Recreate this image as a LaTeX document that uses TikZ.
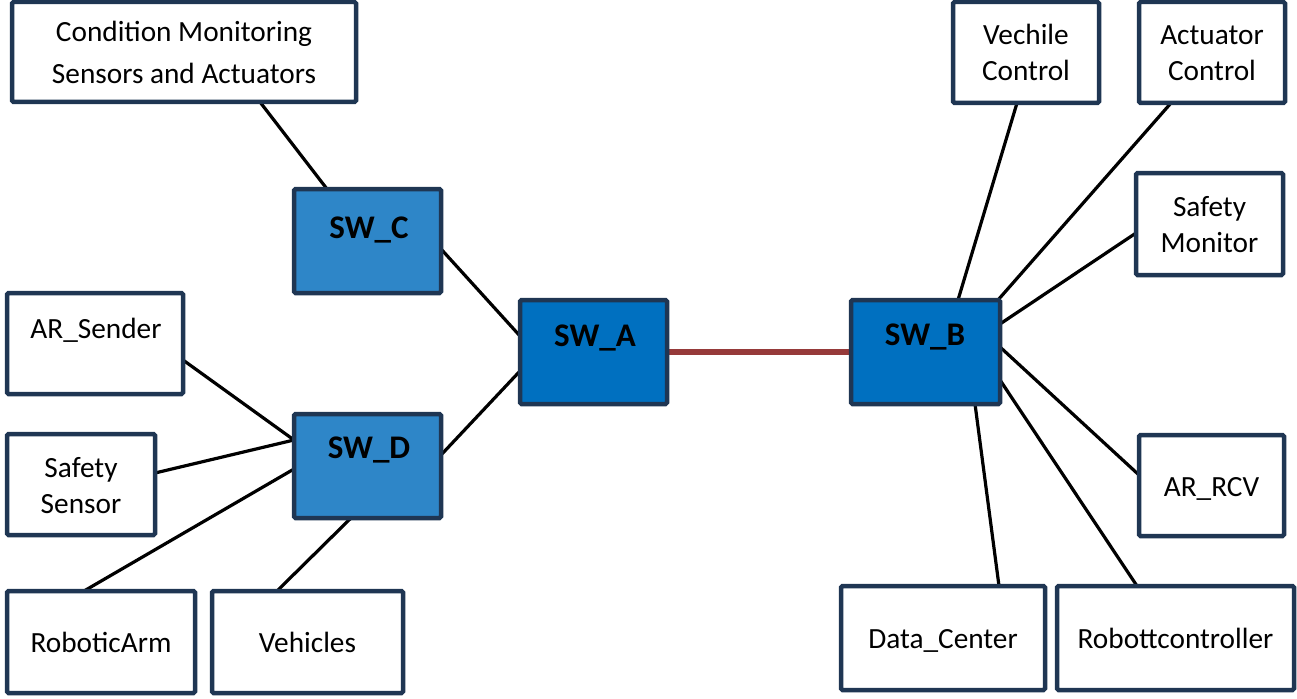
\documentclass[tikz,border=0pt]{standalone}
\usepackage{fontspec}
\setmainfont{Carlito}
\usetikzlibrary{backgrounds}
\definecolor{bordc}{HTML}{1F3653}
\definecolor{swdark}{HTML}{0070C0}
\definecolor{swlight}{HTML}{2E86C8}
\definecolor{linkred}{HTML}{963A3A}
\tikzset{
  box/.style={draw=bordc, line width=4.5pt, rounded corners=1.5pt, fill=white,
    inner sep=0pt, outer sep=0pt, align=center,
    font=\fontsize{29.3}{35}\selectfont},
  swbox/.style={box, fill=swlight},
  swboxd/.style={box, fill=swdark},
  swtxt/.style={font=\fontsize{33}{38}\selectfont\bfseries, inner sep=0pt},
  lbl/.style={font=\fontsize{29.3}{35}\selectfont, inner sep=0pt},
  conn/.style={line width=3.2pt, black},
  redlink/.style={line width=6pt, linkred}
}
\newcommand{\st}{\vrule width 0pt height 31.5pt depth 10.5pt\relax}
\begin{document}
\begin{tikzpicture}[x=1pt,y=-1pt]
\useasboundingbox (0,0) rectangle (1297,698);
% boxes
\node[box, minimum width=344pt, minimum height=100pt] (cm) at (184,52) {\st Condition Monitoring\\[-1pt]\st Sensors and Actuators};
\node[swbox, minimum width=147pt, minimum height=104pt] (swc) at (367.5,241) {};
\node[swboxd, minimum width=147pt, minimum height=104pt] (swa) at (593.5,352) {};
\node[swbox, minimum width=147pt, minimum height=104pt] (swd) at (367.5,466) {};
\node[swboxd, minimum width=149pt, minimum height=104pt] (swb) at (925.5,352) {};
\node[box, minimum width=176pt, minimum height=101pt] (ars) at (95,343.5) {};
\node[box, minimum width=148pt, minimum height=101pt] (ss) at (81,484.5) {\st Safety\\[-7pt]\st Sensor};
\node[box, minimum width=188pt, minimum height=102pt] (ra) at (101,642) {\st RoboticArm};
\node[box, minimum width=191pt, minimum height=102pt] (veh) at (307.5,642) {\st Vehicles};
\node[box, minimum width=146pt, minimum height=101pt] (vc) at (1026,52.5) {\st Vechile\\[-7pt]\st Control};
\node[box, minimum width=146pt, minimum height=101pt] (ac) at (1212,52.5) {\st Actuator\\[-7pt]\st Control};
\node[box, minimum width=147pt, minimum height=102pt] (sm) at (1209.5,224) {\st Safety\\[-7pt]\st Monitor};
\node[box, minimum width=145pt, minimum height=101pt] (rcv) at (1211.5,485.5) {\st AR\_RCV};
\node[box, minimum width=204pt, minimum height=104pt] (dc) at (943,638) {\st Data\_Center};
\node[box, minimum width=237pt, minimum height=104pt] (rc) at (1175.5,638) {\st Robottcontroller};
% texts placed near top
\node[swtxt, anchor=base] (swct) at (369,238) {SW\_C};
\node[swtxt, anchor=base] (swat) at (595,346) {SW\_A};
\node[swtxt, anchor=base] (swdt) at (369,458) {SW\_D};
\node[swtxt, anchor=base] (swbt) at (925,345) {SW\_B};
\node[lbl, anchor=base] (arst) at (96,338) {AR\_Sender};
% connectors
\begin{scope}[on background layer]
\draw[conn] ([xshift=76pt]cm.south) -- ([xshift=-40.5pt]swc.north);
\draw[conn] ([yshift=-8pt]swc.east) -- ([yshift=16pt]swa.west);
\draw[conn] ([yshift=11pt]swd.east) -- ([yshift=-19pt]swa.west);
\draw[redlink] (swa.east) -- (swb.west);
\draw[conn] ([yshift=-16.5pt]ars.east) -- ([yshift=26pt]swd.west);
\draw[conn] ([yshift=11.5pt]ss.east) -- ([yshift=26pt]swd.west);
\draw[conn] ([xshift=-17pt]ra.north) -- ([yshift=-3pt]swd.west);
\draw[conn] ([xshift=-30.5pt]veh.north) -- ([xshift=-16.5pt]swd.south);
\draw[conn] ([xshift=-9pt]vc.south) -- ([xshift=32.5pt]swb.north);
\draw[conn] ([xshift=-41pt]ac.south) -- ([xshift=72.5pt]swb.north);
\draw[conn] ([yshift=-9pt]sm.west) -- ([yshift=28pt]swb.east);
\draw[conn] ([yshift=10.5pt]rcv.west) -- ([yshift=5pt]swb.east);
\draw[conn] ([xshift=-38.5pt]rc.north) -- ([yshift=-28pt]swb.east);
\draw[conn] ([xshift=56pt]dc.north) -- ([xshift=49.5pt]swb.south);
\end{scope}
\end{tikzpicture}
\end{document}
